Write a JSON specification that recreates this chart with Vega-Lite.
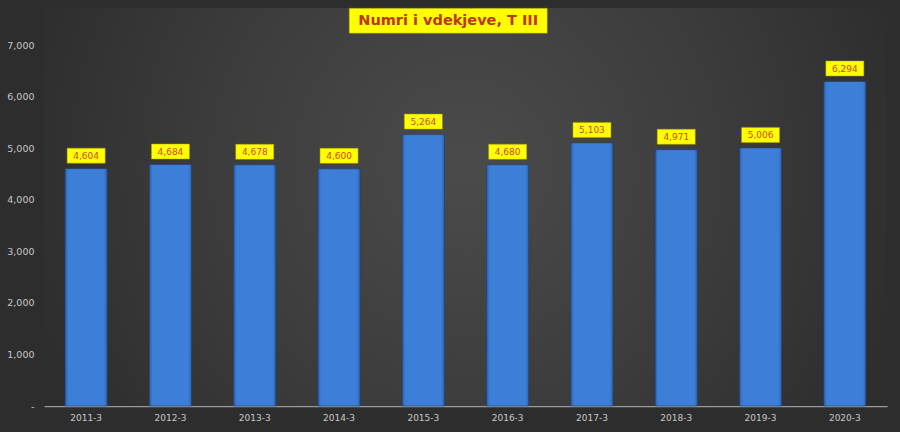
{
  "$schema": "https://vega.github.io/schema/vega-lite/v6.json",
  "width": 900,
  "height": 432,
  "autosize": {"type": "fit", "contains": "padding"},
  "padding": {"top": 8, "left": 6, "right": 13, "bottom": 10},
  "background": "#2d2d2d",
  "config": {
    "view": {"stroke": null},
    "font": "DejaVu Sans"
  },
  "resolve": {"scale": {"x": "independent"}},
  "layer": [
    {
      "data": {"values": [{"a": 0, "b": 1}]},
      "mark": {
        "type": "rect",
        "fill": {
          "gradient": "radial",
          "x1": 0.5, "y1": 0.45, "x2": 0.5, "y2": 0.45, "r1": 0, "r2": 0.55,
          "stops": [
            {"offset": 0, "color": "#4b4b4b"},
            {"offset": 0.55, "color": "#3c3c3c"},
            {"offset": 1, "color": "#2d2d2d"}
          ]
        }
      },
      "encoding": {
        "x": {"field": "a", "type": "quantitative", "scale": {"domain": [0, 1], "nice": false}, "axis": null},
        "x2": {"field": "b"},
        "y": {"datum": 0, "type": "quantitative"},
        "y2": {"datum": 7720}
      }
    },
    {
      "data": {
        "values": [
          {"period": "2011-3", "deaths": 4604},
          {"period": "2012-3", "deaths": 4684},
          {"period": "2013-3", "deaths": 4678},
          {"period": "2014-3", "deaths": 4600},
          {"period": "2015-3", "deaths": 5264},
          {"period": "2016-3", "deaths": 4680},
          {"period": "2017-3", "deaths": 5103},
          {"period": "2018-3", "deaths": 4971},
          {"period": "2019-3", "deaths": 5006},
          {"period": "2020-3", "deaths": 6294}
        ]
      },
      "encoding": {
        "x": {
          "field": "period", "type": "nominal", "sort": null,
          "scale": {"paddingInner": 0.5, "paddingOuter": 0.25},
          "axis": {
            "title": null, "labelAngle": 0, "ticks": false,
            "domainColor": "#9a9a9a", "domainWidth": 1.5,
            "labelColor": "#c8c8c8", "labelFontSize": 9, "labelPadding": 7
          }
        },
        "y": {
          "field": "deaths", "type": "quantitative",
          "scale": {"domain": [0, 7720], "nice": false},
          "axis": {
            "title": null, "values": [0, 1000, 2000, 3000, 4000, 5000, 6000, 7000],
            "labelExpr": "datum.value == 0 ? '-' : format(datum.value, ',')",
            "domain": false, "ticks": false,
            "gridColor": "#5a5a5a", "gridWidth": 1,
            "labelColor": "#c8c8c8", "labelFontSize": 9.5, "labelPadding": 10
          }
        }
      },
      "layer": [
        {
          "mark": {
            "type": "bar",
            "stroke": "#1f3f70", "strokeWidth": 1, "strokeOpacity": 0.6,
            "color": {
              "gradient": "linear", "x1": 0, "x2": 1, "y1": 0, "y2": 0,
              "stops": [
                {"offset": 0, "color": "#2c63b0"},
                {"offset": 0.08, "color": "#3d7fd8"},
                {"offset": 0.92, "color": "#3d7fd8"},
                {"offset": 1, "color": "#2c63b0"}
              ]
            }
          }
        },
        {
          "mark": {
            "type": "point",
            "shape": "M-1.9,-0.75H1.9V0.75H-1.9Z",
            "size": 400, "filled": true, "fill": "#ffff00", "opacity": 1,
            "stroke": "#b0a000", "strokeWidth": 0.5,
            "yOffset": -13
          }
        },
        {
          "mark": {
            "type": "text", "dy": -13, "baseline": "middle",
            "fontSize": 9, "color": "#d2461e"
          },
          "encoding": {"text": {"field": "deaths", "type": "quantitative", "format": ","}}
        }
      ]
    },
    {
      "data": {"values": [{"label": "Numri i vdekjeve, T III", "a": 0.362, "b": 0.597, "c": 0.4795}]},
      "layer": [
        {
          "mark": {"type": "rect", "fill": "#ffff00", "stroke": "#8a8a00", "strokeWidth": 0.5},
          "encoding": {
            "x": {"field": "a", "type": "quantitative", "scale": {"domain": [0, 1], "nice": false}, "axis": null},
            "x2": {"field": "b"},
            "y": {"datum": 7230, "type": "quantitative"},
            "y2": {"datum": 7715}
          }
        },
        {
          "mark": {"type": "text", "fontSize": 14.5, "fontWeight": "bold", "color": "#c0340f", "baseline": "middle"},
          "encoding": {
            "x": {"field": "c", "type": "quantitative", "scale": {"domain": [0, 1], "nice": false}, "axis": null},
            "y": {"datum": 7475, "type": "quantitative"},
            "text": {"field": "label"}
          }
        }
      ]
    }
  ]
}
